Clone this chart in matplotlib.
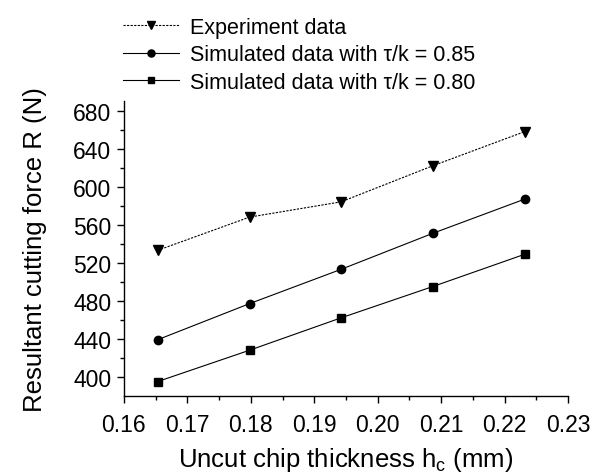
import numpy as np
import matplotlib as mpl
mpl.use('Agg')
import matplotlib.pyplot as plt

plt.rcParams['font.family'] = ['Liberation Sans', 'DejaVu Sans']
plt.rcParams['mathtext.fontset'] = 'custom'
plt.rcParams['mathtext.rm'] = 'Liberation Sans'

# uncut chip thickness (mm)
hc = [0.1653, 0.1798, 0.1942, 0.2087, 0.2232]
# resultant cutting force R (N)
r_exp = [533, 568, 584, 622, 658]
r_085 = [439, 477, 513, 551, 587]
r_080 = [395, 428, 462, 495, 529]

labels = ['Experiment data',
          'Simulated data with \u03c4/k = 0.85',
          'Simulated data with \u03c4/k = 0.80']

fig = plt.figure(figsize=(5.93, 4.77), dpi=100)
ax = fig.add_axes([0.209, 0.168, 0.749, 0.618])

l1, = ax.plot(hc, r_exp, color='black', lw=0.8, ls=(0, (2, 1.2)),
              marker='v', ms=6.5)
l2, = ax.plot(hc, r_085, color='black', lw=0.8, marker='o', ms=6)
l3, = ax.plot(hc, r_080, color='black', lw=0.8, marker='s', ms=5.5)

ax.set_xlim(0.16, 0.23)
ax.set_ylim(380, 690)
ax.set_xticks(np.arange(0.16, 0.2301, 0.01))
ax.set_xticklabels(['%.2f' % v for v in np.arange(0.16, 0.2301, 0.01)])
ax.set_xticks(np.arange(0.16, 0.2301, 0.005), minor=True)
ax.set_yticks(np.arange(400, 681, 40))
ax.set_yticks(np.arange(400, 690, 20), minor=True)

for s in ['top', 'right']:
    ax.spines[s].set_visible(False)
for s in ['left', 'bottom']:
    ax.spines[s].set_linewidth(1.0)
ax.tick_params(which='major', direction='out', length=5, width=1,
               labelsize=16.5, pad=4)
ax.tick_params(axis='x', which='major', pad=7)
ax.tick_params(which='minor', direction='out', length=3, width=1)

ax.set_xlabel('Uncut chip thickness h$_\\mathregular{c}$ (mm)',
              fontsize=18.5, labelpad=7)
ax.set_ylabel('Resultant cutting force R (N)', fontsize=18.5, labelpad=19)

fig.legend([l1, l2, l3], labels, loc='upper left',
           bbox_to_anchor=(0.19, 0.985), frameon=False, fontsize=15.5,
           handlelength=2.6, handletextpad=0.5, labelspacing=0.3,
           borderaxespad=0.2, borderpad=0.3, markerscale=0.85)

fig.savefig('out.png', dpi=100)
